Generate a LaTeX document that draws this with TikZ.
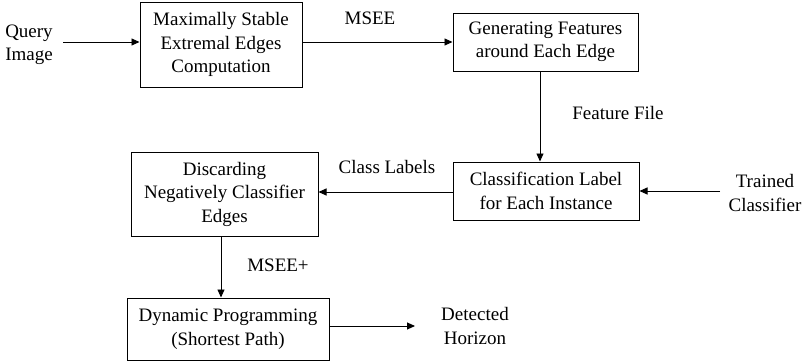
\documentclass[tikz,border=0pt]{standalone}
\usepackage{fontspec}
\setmainfont{Liberation Serif}
\usetikzlibrary{arrows.meta}
\begin{document}
\begin{tikzpicture}[x=1pt,y=-1pt,
  every node/.style={font=\fontsize{19}{23.5}\selectfont, align=center, inner sep=0pt},
  conn/.style={line width=0.9pt, -{Triangle[length=8pt,width=7pt]}}]
\useasboundingbox (0,0) rectangle (807,364);
\node[draw, line width=1pt, minimum width=162pt, minimum height=85pt] (b1) at (221,44.5) {Maximally Stable\\Extremal Edges\\Computation};
\node[draw, line width=1pt, minimum width=185pt, minimum height=58pt] (b2) at (545.5,42) {Generating Features\\around Each Edge};
\node[draw, line width=1pt, minimum width=186pt, minimum height=58pt] (b3) at (546,191) {Classification Label\\for Each Instance};
\node[draw, line width=1pt, minimum width=187pt, minimum height=84pt] (b4) at (224.5,194) {Discarding\\Negatively Classifier\\Edges};
\node[draw, line width=1pt, minimum width=202pt, minimum height=62pt] (b5) at (228,329) {Dynamic Programming\\(Shortest Path)};
\node (qi) at (29,45) {Query\\Image};
\node (tc) at (765,193) {Trained\\Classifier};
\node (dh) at (475,326) {Detected\\Horizon};
\node (l1) at (370,18) {MSEE};
\node (l2) at (618,113) {Feature File};
\node (l3) at (387,167) {Class Labels};
\node (l4) at (278,265) {MSEE+};
\coordinate (qe) at (63,42);
\coordinate (te) at (720,191);
\coordinate (de) at (415,326);
\draw[conn] (qe) -- (qe -| b1.west);
\draw[conn] (b1.east |- 0,42) -- (b2.west |- 0,42);
\draw[conn] (b2.south -| 540,0) -- (b3.north -| 540,0);
\draw[conn] (te) -- (te -| b3.east);
\draw[conn] (b3.west |- 0,192) -- (b4.east |- 0,192);
\draw[conn] (b4.south -| 221,0) -- (b5.north -| 221,0);
\draw[conn] (b5.east |- de) -- (de);
\end{tikzpicture}
\end{document}
